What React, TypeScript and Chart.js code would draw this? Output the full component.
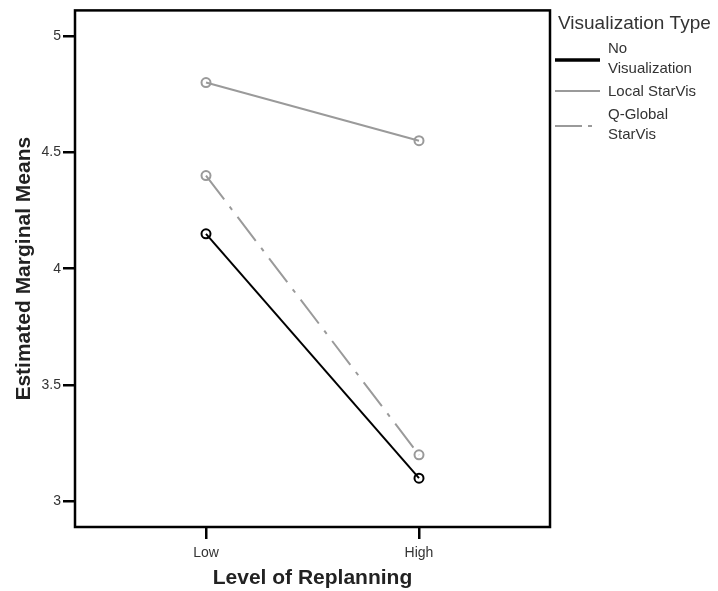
import React, { useEffect, useRef } from "react";
import { Chart, registerables } from "chart.js";

Chart.register(...registerables);

const categories = ["Low", "High"];
const seriesNames = ["No Visualization", "Local StarVis", "Q-Global StarVis"];
const noVis = [4.15, 3.1];
const localStarVis = [4.8, 4.55];
const qGlobalStarVis = [4.4, 3.2];
const yTicks = [3, 3.5, 4, 4.5, 5];
const legendTitle = "Visualization Type";
const xTitle = "Level of Replanning";
const yTitle = "Estimated Marginal Means";

const FONT = "'Liberation Sans', Arial, sans-serif";
const colors = ["#000000", "#9a9a9a", "#9a9a9a"];
const widths = [2, 2, 2];
const dashes: number[][] = [[], [], [30, 9, 4, 9]];

function wrap(ctx: CanvasRenderingContext2D, text: string, maxW: number): string[] {
  const words = text.split(" ");
  const lines: string[] = [];
  let cur = "";
  for (const w of words) {
    const t = cur ? cur + " " + w : w;
    if (ctx.measureText(t).width > maxW && cur) {
      lines.push(cur);
      cur = w;
    } else cur = t;
  }
  if (cur) lines.push(cur);
  return lines;
}

const framePlugin = {
  id: "frameLegend",
  afterDatasetsDraw(chart: any) {
    const { ctx, chartArea } = chart;
    ctx.save();
    ctx.strokeStyle = "#000";
    ctx.lineWidth = 2.5;
    ctx.setLineDash([]);
    ctx.strokeRect(chartArea.left, chartArea.top, chartArea.right - chartArea.left, chartArea.bottom - chartArea.top);
    // legend
    const x0 = chartArea.right + 5;
    ctx.fillStyle = "#333";
    ctx.font = `19px ${FONT}`;
    ctx.textBaseline = "middle";
    ctx.textAlign = "left";
    ctx.fillText(legendTitle, chartArea.right + 8, 24);
    ctx.font = `15px ${FONT}`;
    let y = 39;
    const lineH = 20;
    seriesNames.forEach((name, i) => {
      const lines = wrap(ctx, name, 100);
      const h = lines.length * lineH;
      const mid = y + h / 2 + (lines.length > 1 ? 1 : -1);
      ctx.strokeStyle = colors[i];
      ctx.lineWidth = i === 0 ? 3.5 : 2;
      ctx.beginPath();
      if (i === 2) {
        ctx.moveTo(x0, mid);
        ctx.lineTo(x0 + 27, mid);
        ctx.moveTo(x0 + 33, mid);
        ctx.lineTo(x0 + 37, mid);
      } else {
        ctx.moveTo(x0, mid);
        ctx.lineTo(x0 + 45, mid);
      }
      ctx.stroke();
      ctx.fillStyle = "#333";
      lines.forEach((l, j) => ctx.fillText(l, x0 + 53, y + lineH * j + lineH / 2));
      y += h + 3;
    });
    ctx.restore();
  },
};

export default function App() {
  const ref = useRef<HTMLCanvasElement>(null);
  useEffect(() => {
    document.body.style.margin = "0";
    const series = [noVis, localStarVis, qGlobalStarVis];
    const chart = new Chart(ref.current!, {
      type: "line",
      data: {
        datasets: series.map((vals, i) => ({
          label: seriesNames[i],
          data: vals.map((v, k) => ({ x: k, y: v })),
          borderColor: colors[i],
          borderWidth: widths[i],
          borderDash: dashes[i],
          pointRadius: 4.5,
          pointBorderWidth: 2,
          pointBackgroundColor: "rgba(255,255,255,0)",
          pointBorderColor: colors[i],
          fill: false,
          tension: 0,
        })),
      },
      options: {
        animation: false,
        responsive: false,
        layout: { padding: { top: 6, right: 168, left: 0, bottom: 0 } },
        plugins: { legend: { display: false }, tooltip: { enabled: false } },
        scales: {
          x: {
            type: "linear",
            min: -0.615,
            max: 1.615,
            afterBuildTicks: (s: any) => {
              s.ticks = categories.map((_, i) => ({ value: i }));
            },
            afterFit: (s: any) => {
              s.height = 64;
            },
            ticks: {
              callback: (v: any) => categories[v] ?? "",
              color: "#333",
              font: { family: FONT, size: 14 },
              padding: 6,
              maxRotation: 0,
            },
            grid: { display: true, drawOnChartArea: false, drawTicks: true, tickLength: 12, color: "#000", lineWidth: 2.5 },
            border: { display: false },
            title: { display: true, text: xTitle, color: "#222", font: { family: FONT, size: 21, weight: "bold" }, padding: { top: 0, bottom: 0 } },
          },
          y: {
            type: "linear",
            min: 2.89,
            max: 5.11,
            afterBuildTicks: (s: any) => {
              s.ticks = yTicks.map((v) => ({ value: v }));
            },
            afterFit: (s: any) => {
              s.width = 75;
            },
            ticks: {
              callback: (v: any) => String(v),
              color: "#333",
              font: { family: FONT, size: 14 },
              padding: 2,
            },
            grid: { display: true, drawOnChartArea: false, drawTicks: true, tickLength: 12, color: "#000", lineWidth: 2.5 },
            border: { display: false },
            title: { display: true, text: yTitle, color: "#222", font: { family: FONT, size: 21, weight: "bold" }, padding: { top: 12, bottom: 0 } },
          },
        },
      } as any,
      plugins: [framePlugin],
    });
    return () => chart.destroy();
  }, []);
  return <canvas ref={ref} width={718} height={591} style={{ display: "block" }} />;
}
